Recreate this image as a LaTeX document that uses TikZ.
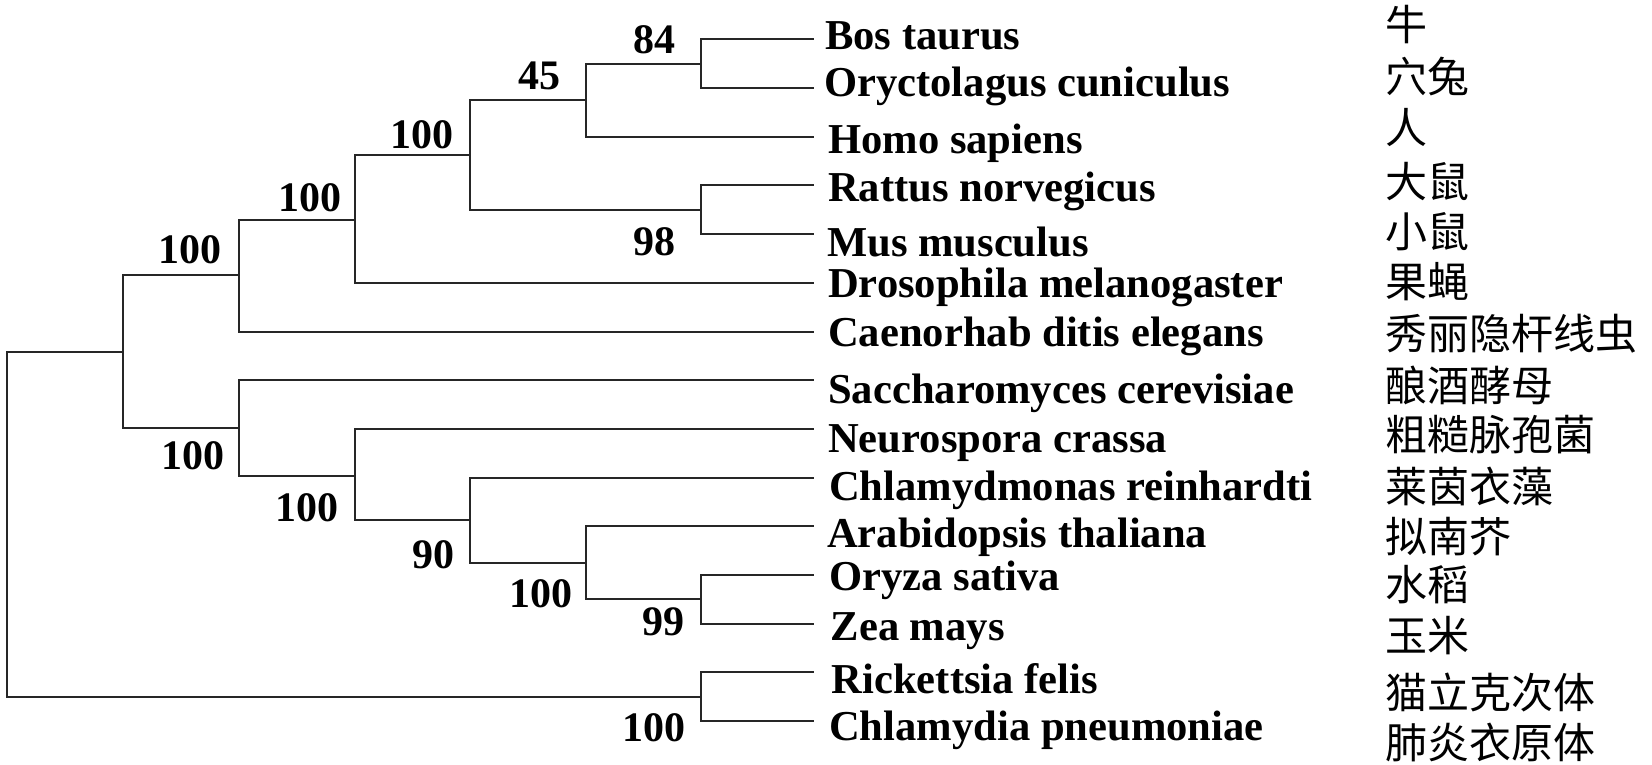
\documentclass[tikz,border=0pt]{standalone}
\usepackage{fontspec}
\setmainfont{Liberation Serif}
\newfontfamily\cjk{Noto Sans CJK SC}
\begin{document}
\begin{tikzpicture}[x=1pt,y=-1pt,
  branch/.style={line width=2pt, draw=black!85, line cap=rect},
  boot/.style={anchor=base east, inner sep=0pt, font=\fontsize{42}{48}\selectfont\bfseries},
  taxon/.style={anchor=base west, inner sep=0pt, font=\fontsize{42.6}{48}\selectfont\bfseries},
  cname/.style={anchor=west, inner sep=0pt, font=\cjk\fontsize{42}{48}\selectfont}]
\useasboundingbox (0,0) rectangle (1652,764);
% leaf tips
\coordinate (t1) at (813,39.3);
\coordinate (t2) at (813,88.0);
\coordinate (t3) at (813,136.7);
\coordinate (t4) at (813,185.4);
\coordinate (t5) at (813,234.1);
\coordinate (t6) at (813,282.8);
\coordinate (t7) at (813,331.5);
\coordinate (t8) at (813,380.2);
\coordinate (t9) at (813,428.9);
\coordinate (t10) at (813,477.6);
\coordinate (t11) at (813,526.3);
\coordinate (t12) at (813,575.0);
\coordinate (t13) at (813,623.7);
\coordinate (t14) at (813,672.4);
\coordinate (t15) at (813,721.1);
% internal nodes
\coordinate (R) at (7,525);
\coordinate (A) at (123,352);
\coordinate (B) at (239,275);
\coordinate (C) at (355,220);
\coordinate (D) at (470,155);
\coordinate (E) at (586,100);
\coordinate (F) at (701,63.7);
\coordinate (H) at (701,209.8);
\coordinate (G) at (239,428);
\coordinate (I) at (355,476);
\coordinate (J) at (470,520);
\coordinate (K) at (586,563);
\coordinate (L) at (701,599.4);
\coordinate (M) at (701,696.8);
% branches
\draw[branch] (R) |- (A);
\draw[branch] (R) |- (M);
\draw[branch] (A) |- (B);
\draw[branch] (A) |- (G);
\draw[branch] (B) |- (C);
\draw[branch] (B) |- (t7);
\draw[branch] (C) |- (D);
\draw[branch] (C) |- (t6);
\draw[branch] (D) |- (E);
\draw[branch] (D) |- (H);
\draw[branch] (E) |- (F);
\draw[branch] (E) |- (t3);
\draw[branch] (F) |- (t1);
\draw[branch] (F) |- (t2);
\draw[branch] (H) |- (t4);
\draw[branch] (H) |- (t5);
\draw[branch] (G) |- (t8);
\draw[branch] (G) |- (I);
\draw[branch] (I) |- (t9);
\draw[branch] (I) |- (J);
\draw[branch] (J) |- (t10);
\draw[branch] (J) |- (K);
\draw[branch] (K) |- (t11);
\draw[branch] (K) |- (L);
\draw[branch] (L) |- (t12);
\draw[branch] (L) |- (t13);
\draw[branch] (M) |- (t14);
\draw[branch] (M) |- (t15);
% bootstrap values
\node[boot] (bF) at (676,53) {84};
\node[boot] (bE) at (561,89) {45};
\node[boot] (bD) at (454,148) {100};
\node[boot] (bC) at (341.5,211.7) {100};
\node[boot] (bB) at (222,263) {100};
\node[boot] (bH) at (676,255) {98};
\node[boot] (bG) at (225,469) {100};
\node[boot] (bI) at (339,521.7) {100};
\node[boot] (bJ) at (455,568) {90};
\node[boot] (bK) at (573,607.7) {100};
\node[boot] (bL) at (684.5,635) {99};
\node[boot] (bM) at (685.5,741.7) {100};
% taxon labels
\node[taxon] (n1) at (825,49.3) {Bos taurus};
\node[taxon] (n2) at (824,96.7) {Oryctolagus cuniculus};
\node[taxon] (n3) at (828,153.3) {Homo sapiens};
\node[taxon] (n4) at (828,201.7) {Rattus norvegicus};
\node[taxon] (n5) at (827,256.7) {Mus musculus};
\node[taxon] (n6) at (828,297.7) {Drosophila melanogaster};
\node[taxon] (n7) at (828,346.7) {Caenorhab ditis elegans};
\node[taxon] (n8) at (828,403.7) {Saccharomyces cerevisiae};
\node[taxon] (n9) at (828,452) {Neurospora crassa};
\node[taxon] (n10) at (829,500.3) {Chlamydmonas reinhardti};
\node[taxon] (n11) at (827,547) {Arabidopsis thaliana};
\node[taxon] (n12) at (829,590.3) {Oryza sativa};
\node[taxon] (n13) at (830.5,640.3) {Zea mays};
\node[taxon] (n14) at (831.5,693.7) {Rickettsia felis};
\node[taxon] (n15) at (829,740.3) {Chlamydia pneumoniae};
% Chinese names
\node[cname] (c1) at (1385,25) {牛};
\node[cname] (c2) at (1385,77) {穴兔};
\node[cname] (c3) at (1385,127.5) {人};
\node[cname] (c4) at (1385,182) {大鼠};
\node[cname] (c5) at (1385,232) {小鼠};
\node[cname] (c6) at (1385,282) {果蝇};
\node[cname] (c7) at (1385,333.5) {秀丽隐杆线虫};
\node[cname] (c8) at (1385,385) {酿酒酵母};
\node[cname] (c9) at (1385,435) {粗糙脉孢菌};
\node[cname] (c10) at (1385,486) {莱茵衣藻};
\node[cname] (c11) at (1385,537) {拟南芥};
\node[cname] (c12) at (1385,585) {水稻};
\node[cname] (c13) at (1385,636) {玉米};
\node[cname] (c14) at (1385,692) {猫立克次体};
\node[cname] (c15) at (1385,742) {肺炎衣原体};
\end{tikzpicture}
\end{document}
